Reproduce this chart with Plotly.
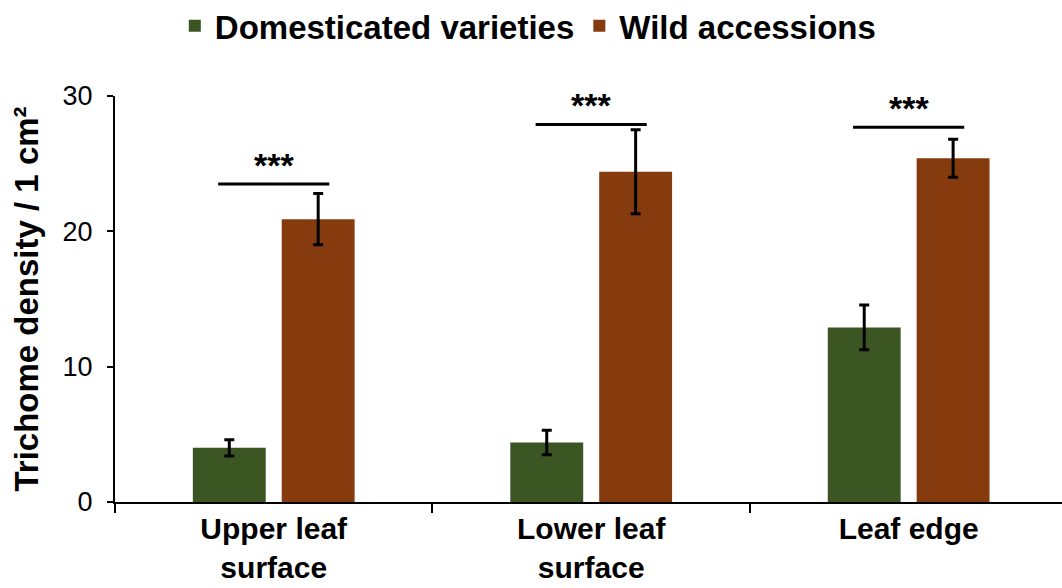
import plotly.graph_objects as go

# ---- data ----
categories = ["Upper leaf<br>surface", "Lower leaf<br>surface", "Leaf edge"]
domesticated = [4.0, 4.4, 12.9]
domesticated_err = [0.6, 0.9, 1.65]
wild = [20.9, 24.4, 25.4]
wild_err = [1.9, 3.1, 1.4]
sig_y = [23.5, 27.9, 27.7]
sig_labels = ["***", "***", "***"]
y_ticks = [0, 10, 20, 30]

FONT = "Liberation Sans, Arial, sans-serif"
GREEN = "#3B5623"
BROWN = "#853B0E"

fig = go.Figure()
fig.add_trace(go.Bar(
    name="Domesticated varieties", x=categories, y=domesticated,
    marker=dict(color=GREEN, line=dict(width=0)),
    error_y=dict(type="data", array=domesticated_err, color="black", thickness=3, width=5),
))
fig.add_trace(go.Bar(
    name="Wild accessions", x=categories, y=wild,
    marker=dict(color=BROWN, line=dict(width=0)),
    error_y=dict(type="data", array=wild_err, color="black", thickness=3, width=5),
))

for i, (yv, lab) in enumerate(zip(sig_y, sig_labels)):
    fig.add_shape(type="line", xref="x", yref="y",
                  x0=i - 0.175, x1=i + 0.175, y0=yv, y1=yv,
                  line=dict(color="black", width=3))
    fig.add_annotation(x=i, y=yv, xref="x", yref="y", text=lab, showarrow=False,
                       yanchor="middle", yshift=19,
                       font=dict(family=FONT, size=34, color="black", weight="bold"))

fig.update_layout(
    width=1062, height=588,
    margin=dict(l=115, r=0, t=96, b=86, autoexpand=False),
    paper_bgcolor="white", plot_bgcolor="white",
    barmode="group", bargap=0.44, bargroupgap=0.18,
    font=dict(family=FONT, color="black"),
    legend=dict(orientation="h", xref="container", yref="container",
                x=0.497, xanchor="center", y=0.956, yanchor="middle",
                font=dict(family=FONT, size=33, color="black", weight="bold"),
                itemsizing="constant", traceorder="normal"),
    showlegend=True,
)
fig.update_xaxes(
    range=[-0.5, 2.483], showline=True, linecolor="black", linewidth=2,
    ticks="outside", tickson="boundaries", ticklen=9, tickwidth=2, tickcolor="black",
    tickfont=dict(family=FONT, size=30, color="black", weight="bold"),
    ticklabelstandoff=-1, automargin=False,
    showgrid=False, zeroline=False,
)
fig.update_yaxes(
    range=[0, 30], tickvals=y_ticks, showline=True, linecolor="black", linewidth=2,
    ticks="outside", ticklen=6, tickwidth=2, tickcolor="black",
    tickfont=dict(family=FONT, size=27, color="black"),
    ticklabelstandoff=9, automargin=False,
    showgrid=False, zeroline=False,
    title=dict(text="Trichome density / 1 cm²", standoff=14,
               font=dict(family=FONT, size=33, color="black", weight="bold")),
)

fig.write_html("out.html")
